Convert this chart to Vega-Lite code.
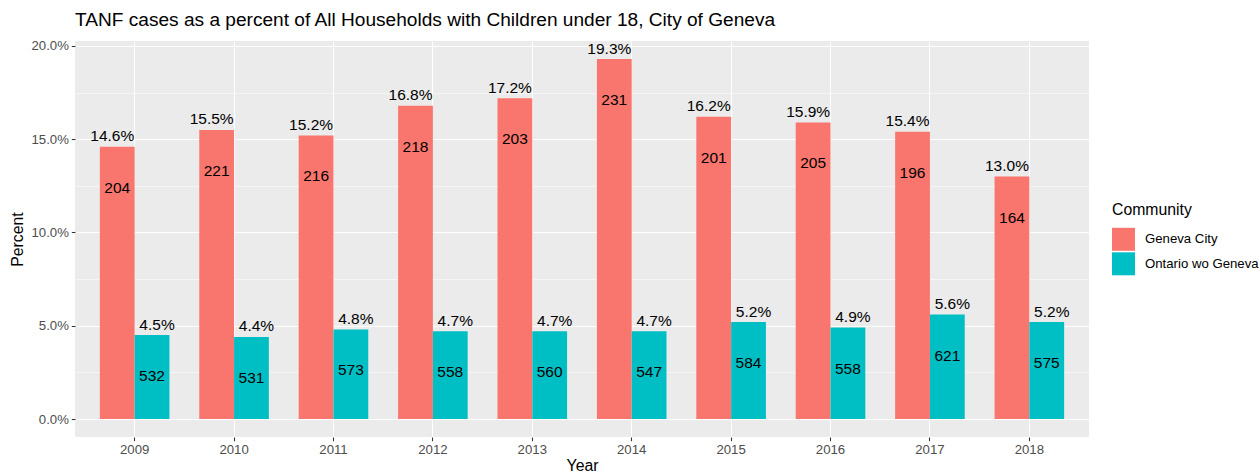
{
  "$schema": "https://vega.github.io/schema/vega-lite/v6.json",
  "width": 1014,
  "height": 396,
  "autosize": {"type": "none"},
  "padding": {"left": 75, "top": 41, "right": 171, "bottom": 36},
  "background": "#FFFFFF",
  "title": {
    "text": "TANF cases as a percent of All Households with Children under 18, City of Geneva",
    "anchor": "start",
    "frame": "group",
    "font": "Liberation Sans",
    "fontSize": 19.1,
    "fontWeight": "normal",
    "color": "#000000",
    "offset": 9
  },
  "config": {
    "view": {"stroke": null, "fill": "#EBEBEB"},
    "font": "Liberation Sans",
    "axis": {"labelFont": "Liberation Sans", "titleFont": "Liberation Sans"},
    "legend": {"labelFont": "Liberation Sans", "titleFont": "Liberation Sans"}
  },
  "data": {
    "values": [
      {"year": "2009", "community": "Geneva City", "pct": 0.146, "cases": 204},
      {"year": "2009", "community": "Ontario wo Geneva", "pct": 0.045, "cases": 532},
      {"year": "2010", "community": "Geneva City", "pct": 0.155, "cases": 221},
      {"year": "2010", "community": "Ontario wo Geneva", "pct": 0.044, "cases": 531},
      {"year": "2011", "community": "Geneva City", "pct": 0.152, "cases": 216},
      {"year": "2011", "community": "Ontario wo Geneva", "pct": 0.048, "cases": 573},
      {"year": "2012", "community": "Geneva City", "pct": 0.168, "cases": 218},
      {"year": "2012", "community": "Ontario wo Geneva", "pct": 0.047, "cases": 558},
      {"year": "2013", "community": "Geneva City", "pct": 0.172, "cases": 203},
      {"year": "2013", "community": "Ontario wo Geneva", "pct": 0.047, "cases": 560},
      {"year": "2014", "community": "Geneva City", "pct": 0.193, "cases": 231},
      {"year": "2014", "community": "Ontario wo Geneva", "pct": 0.047, "cases": 547},
      {"year": "2015", "community": "Geneva City", "pct": 0.162, "cases": 201},
      {"year": "2015", "community": "Ontario wo Geneva", "pct": 0.052, "cases": 584},
      {"year": "2016", "community": "Geneva City", "pct": 0.159, "cases": 205},
      {"year": "2016", "community": "Ontario wo Geneva", "pct": 0.049, "cases": 558},
      {"year": "2017", "community": "Geneva City", "pct": 0.154, "cases": 196},
      {"year": "2017", "community": "Ontario wo Geneva", "pct": 0.056, "cases": 621},
      {"year": "2018", "community": "Geneva City", "pct": 0.130, "cases": 164},
      {"year": "2018", "community": "Ontario wo Geneva", "pct": 0.052, "cases": 575}
    ]
  },
  "encoding": {
    "x": {
      "field": "year",
      "type": "ordinal",
      "title": "Year",
      "scale": {"paddingInner": 0.3, "paddingOuter": 0.25},
      "axis": {
        "labelAngle": 0,
        "domain": false,
        "grid": true,
        "gridColor": "#FFFFFF",
        "gridWidth": 1.07,
        "tickColor": "#333333",
        "tickWidth": 1.07,
        "tickSize": 3.7,
        "labelPadding": 2.9,
        "labelColor": "#4D4D4D",
        "labelFontSize": 13.2,
        "titleFontSize": 15.8,
        "titleFontWeight": "normal",
        "titleColor": "#000000",
        "titlePadding": 3
      }
    },
    "y": {
      "field": "pct",
      "type": "quantitative",
      "title": "Percent",
      "scale": {"domain": [-0.00965, 0.20265], "nice": false, "zero": false},
      "axis": {
        "values": [0, 0.025, 0.05, 0.075, 0.1, 0.125, 0.15, 0.175, 0.2],
        "labelExpr": "round(datum.value*40)%2===1 ? '' : format(datum.value,'.1%')",
        "labelOverlap": false,
        "labelFlush": false,
        "domain": false,
        "grid": true,
        "gridColor": "#FFFFFF",
        "gridWidth": {"condition": {"test": "round(datum.value*40)%2===1", "value": 0.53}, "value": 1.07},
        "tickColor": "#333333",
        "tickWidth": {"condition": {"test": "round(datum.value*40)%2===1", "value": 0}, "value": 1.07},
        "tickSize": 3.7,
        "labelPadding": 2.9,
        "labelColor": "#4D4D4D",
        "labelFontSize": 13.2,
        "titleFontSize": 15.8,
        "titleFontWeight": "normal",
        "titleColor": "#000000",
        "titlePadding": 6
      }
    }
  },
  "layer": [
    {
      "mark": {"type": "bar"},
      "encoding": {
        "xOffset": {"field": "community", "type": "nominal", "scale": {"paddingInner": 0, "paddingOuter": 0}},
        "color": {
          "field": "community",
          "type": "nominal",
          "title": "Community",
          "scale": {"domain": ["Geneva City", "Ontario wo Geneva"], "range": ["#F8766D", "#00BFC4"]},
          "legend": {
            "orient": "none",
            "legendX": 1037,
            "legendY": 162,
            "symbolType": "square",
            "symbolSize": 529,
            "symbolStrokeWidth": 0,
            "symbolOpacity": 1,
            "rowPadding": 1.5,
            "labelOffset": 10,
            "labelFontSize": 13.2,
            "labelColor": "#000000",
            "titleFontSize": 15.8,
            "titleFontWeight": "normal",
            "titleColor": "#000000",
            "titlePadding": 9
          }
        }
      }
    },
    {
      "mark": {"type": "text", "baseline": "middle", "align": "center", "dy": 41, "fontSize": 15.5, "color": "#000000"},
      "encoding": {
        "xOffset": {"field": "community", "type": "nominal"},
        "text": {"field": "cases", "type": "quantitative"}
      }
    },
    {
      "transform": [{"filter": "datum.community === 'Geneva City'"}],
      "mark": {"type": "text", "baseline": "alphabetic", "align": "center", "dx": -5, "dy": -5.5, "fontSize": 15.5, "color": "#000000"},
      "encoding": {
        "xOffset": {"field": "community", "type": "nominal"},
        "text": {"field": "pct", "type": "quantitative", "format": ".1%"}
      }
    },
    {
      "transform": [{"filter": "datum.community === 'Ontario wo Geneva'"}],
      "mark": {"type": "text", "baseline": "alphabetic", "align": "center", "dx": 5, "dy": -5.5, "fontSize": 15.5, "color": "#000000"},
      "encoding": {
        "xOffset": {"field": "community", "type": "nominal"},
        "text": {"field": "pct", "type": "quantitative", "format": ".1%"}
      }
    }
  ]
}
